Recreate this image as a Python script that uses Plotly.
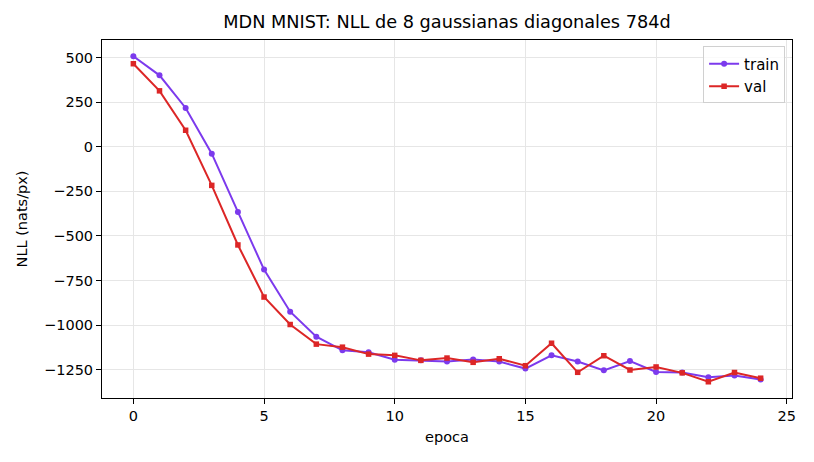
import plotly.graph_objects as go

# ── Data ───────────────────────────────────────────────────────────────────────
epochs = list(range(25))
train_nll = [507, 400, 217, -39, -366, -689, -925, -1065, -1142, -1153,
             -1194, -1198, -1205, -1193, -1205, -1244, -1170, -1204, -1254, -1202,
             -1263, -1266, -1292, -1283, -1305]
val_nll = [465, 313, 92, -217, -551, -843, -997, -1107, -1124, -1163,
           -1170, -1198, -1185, -1209, -1189, -1228, -1102, -1265, -1172, -1252,
           -1235, -1268, -1318, -1266, -1298]

x_ticks = [0, 5, 10, 15, 20, 25]
y_ticks = [500, 250, 0, -250, -500, -750, -1000, -1250]

PURPLE = "#7c3aed"
RED = "#dc2626"
FONT = "DejaVu Sans"

fig = go.Figure()
fig.add_trace(go.Scatter(
    x=epochs, y=train_nll, name="train", mode="lines+markers",
    line=dict(color=PURPLE, width=2),
    marker=dict(symbol="circle", size=6, color=PURPLE),
))
fig.add_trace(go.Scatter(
    x=epochs, y=val_nll, name="val", mode="lines+markers",
    line=dict(color=RED, width=2),
    marker=dict(symbol="square", size=5.5, color=RED),
))

axis_common = dict(
    showline=True, linecolor="black", linewidth=1, mirror=True,
    ticks="outside", ticklen=5, tickwidth=1, tickcolor="black",
    showgrid=True, gridcolor="#e6e6e6", gridwidth=1,
    zeroline=False, tickfont=dict(family=FONT, size=14.5, color="black"),
)

# page body adds an 8px offset, so margins are trimmed by 8 on left/top
fig.update_layout(
    width=814, height=462,
    margin=dict(l=94, r=30, t=32, b=72),
    paper_bgcolor="white", plot_bgcolor="white",
    font=dict(family=FONT, size=14.5, color="black"),
    title=dict(text="MDN MNIST: NLL de 8 gaussianas diagonales 784d",
               x=0.5, xref="paper", y=0.970, yanchor="middle",
               font=dict(family=FONT, size=17.7, color="black")),
    legend=dict(x=0.99, y=0.982, xanchor="right", yanchor="top",
                bgcolor="rgba(255,255,255,0.8)", bordercolor="#d0d0d0",
                borderwidth=1, font=dict(family=FONT, size=15)),
    showlegend=True,
)
fig.update_xaxes(range=[-1.2, 25.2], tickvals=x_ticks,
                 title=dict(text="epoca", font=dict(family=FONT, size=14.5), standoff=8),
                 **axis_common)
fig.update_yaxes(range=[-1409, 598], tickvals=y_ticks,
                 title=dict(text="NLL (nats/px)", font=dict(family=FONT, size=14.5), standoff=12),
                 **axis_common)

fig.write_html("out.html")
